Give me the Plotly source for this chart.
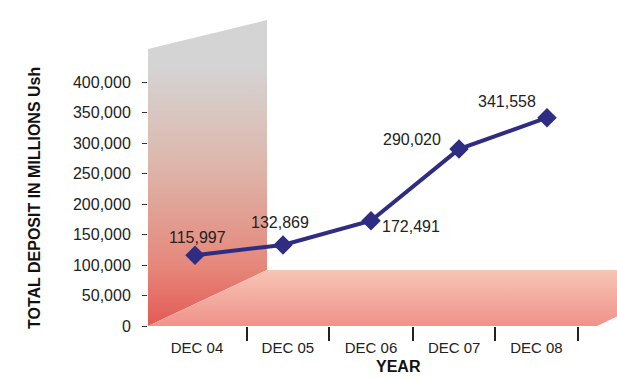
import plotly.graph_objects as go

# ---- data ----
categories = ["DEC 04", "DEC 05", "DEC 06", "DEC 07", "DEC 08"]
deposits = [115997, 132869, 172491, 290020, 341558]
y_tick_values = [0, 50000, 100000, 150000, 200000, 250000, 300000, 350000, 400000]

# ---- layout constants (pixels of a 617x378 canvas) ----
W, H = 617, 378
LINE_COLOR = "#2f2d82"
ARIAL = "Liberation Sans, Arial, sans-serif"

def py(p):  # pixel row -> decoration y value (bottom-up)
    return H - p

fig = go.Figure()

# Back wall (decoration, pixel space)
wall_x = [148, 148, 267, 267, 148]
wall_y = [py(326), py(49), py(20), py(270), py(326)]
fig.add_trace(go.Scatter(
    x=wall_x, y=wall_y, mode="lines", line=dict(width=0), fill="toself",
    fillgradient=dict(type="vertical", colorscale=[
        [0.0, "#e35a55"], [0.2, "#e6887b"], [0.55, "#ddb9ae"],
        [0.85, "#d4d4d4"], [1.0, "#d4d4d4"]]),
    hoverinfo="skip", showlegend=False, xaxis="x", yaxis="y"))

# Floor (decoration, pixel space)
floor_x = [148, 267, 716, 597, 148]
floor_y = [py(326), py(270), py(270), py(326), py(326)]
fig.add_trace(go.Scatter(
    x=floor_x, y=floor_y, mode="lines", line=dict(width=0), fill="toself",
    fillgradient=dict(type="vertical", colorscale=[
        [0.0, "#f0928a"], [1.0, "#f7c5b5"]]),
    hoverinfo="skip", showlegend=False, xaxis="x", yaxis="y"))

# Data line
xi = list(range(len(categories)))
fig.add_trace(go.Scatter(
    x=xi, y=deposits, mode="lines+markers",
    line=dict(color=LINE_COLOR, width=4),
    marker=dict(symbol="diamond", size=15, color=LINE_COLOR),
    hoverinfo="skip", showlegend=False, xaxis="x2", yaxis="y2"))

# Data labels
label_shifts = [(2, 18), (-3, 22), (40, -6), (-47, 10), (-40, 16)]
for i, (v, (dx, dy)) in enumerate(zip(deposits, label_shifts)):
    fig.add_annotation(x=xi[i], y=v, xref="x2", yref="y2", text=f"{v:,}",
                       showarrow=False, xshift=dx, yshift=dy,
                       font=dict(family=ARIAL, size=16, color="#222222"))

# x-axis boundaries (category separators) and label positions
bounds = [-0.545, 0.59, 1.52, 2.48, 3.41, 4.35]
label_pos = [(a + b) / 2 for a, b in zip(bounds[:-1], bounds[1:])]

x0px, x_step, x_first = 148, 88.0, 195
fig.update_layout(
    width=W, height=H, margin=dict(l=0, r=0, t=0, b=0, pad=0, autoexpand=False),
    paper_bgcolor="white", plot_bgcolor="rgba(0,0,0,0)",
    xaxis=dict(domain=[0, 1], range=[0, W], visible=False, fixedrange=True,
               automargin=False),
    yaxis=dict(domain=[0, 1], range=[0, H], visible=False, fixedrange=True,
               automargin=False),
    xaxis2=dict(domain=[x0px / W, 1], anchor="y2", automargin=False,
                range=[(x0px - x_first) / x_step, (W - x_first) / x_step],
                tickmode="array", tickvals=label_pos, ticktext=categories,
                ticks="outside", ticklen=8, tickcolor="rgba(0,0,0,0)",
                showgrid=False, zeroline=False, showline=False,
                tickfont=dict(family=ARIAL, size=15, color="#222222"),
                minor=dict(tickmode="array", tickvals=bounds, ticks="outside",
                           ticklen=14, tickwidth=1.6, tickcolor="#222222",
                           showgrid=False)),
    yaxis2=dict(domain=[(H - 326) / H, 1], anchor="x2", automargin=False,
                range=[0, 326 * 50000 / 30.5],
                tickmode="array", tickvals=y_tick_values,
                tickformat=",d", ticks="outside", ticklen=5, tickwidth=1,
                tickcolor="#333333", ticklabelstandoff=8,
                showgrid=False, zeroline=False, showline=False,
                tickfont=dict(family=ARIAL, size=16, color="#222222")),
)

# Axis titles
fig.add_annotation(x=34 / W, y=(H - 198) / H, xref="paper", yref="paper",
                   text="<b>TOTAL DEPOSIT IN MILLIONS Ush</b>", textangle=-90,
                   showarrow=False, xanchor="center", yanchor="middle",
                   font=dict(family=ARIAL, size=16, color="#111111"))
fig.add_annotation(x=398 / W, y=(H - 366) / H, xref="paper", yref="paper",
                   text="<b>YEAR</b>", showarrow=False,
                   xanchor="center", yanchor="middle",
                   font=dict(family=ARIAL, size=16, color="#111111"))

fig.write_html("out.html")
